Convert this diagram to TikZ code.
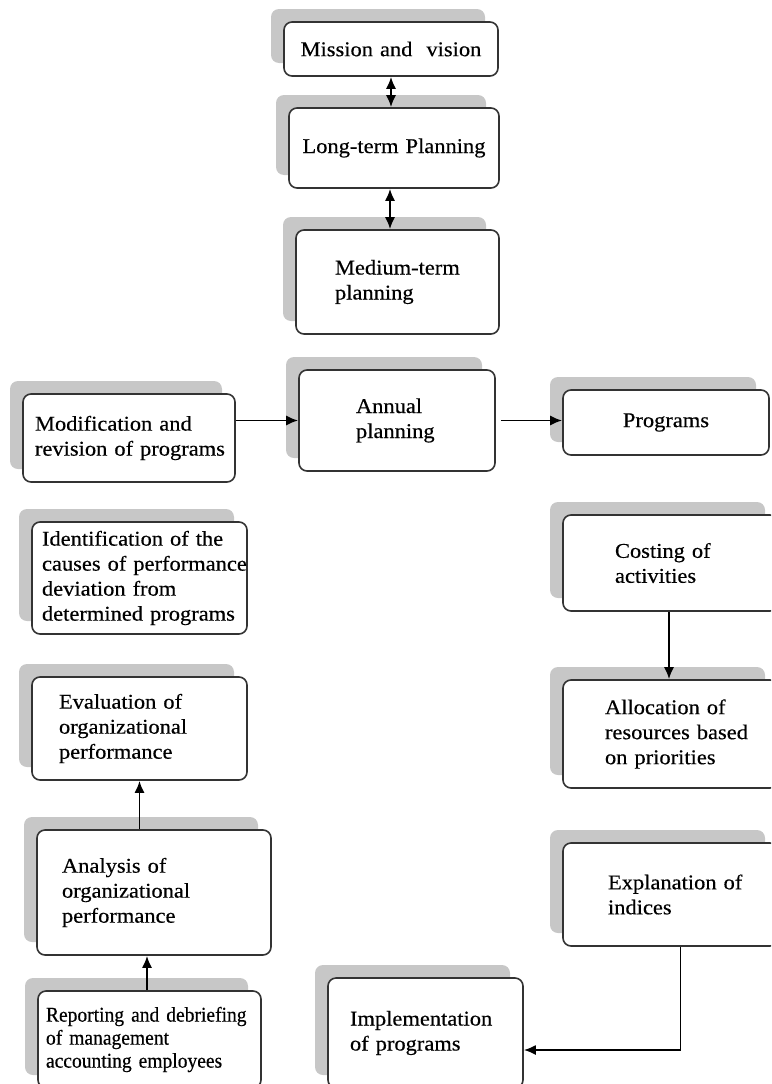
\documentclass[tikz,border=0pt]{standalone}
\usepackage{fontspec}
\setmainfont{Liberation Serif}[FakeStretch=1.07,FakeBold=0.4]
\newfontfamily\narrowserif{Liberation Serif}[FakeStretch=0.93,FakeBold=0.4]
\usepackage{tikz}
\usetikzlibrary{arrows.meta}
\usetikzlibrary{shadows}

\definecolor{shadowgray}{gray}{0.78}
\definecolor{edgegray}{gray}{0.2}

\tikzset{
  card/.style={draw=edgegray,line width=1.6pt,rounded corners=8pt,fill=white,inner sep=0pt,
    font=\fontsize{21}{25}\selectfont,
    drop shadow={shadow xshift=-13pt,shadow yshift=13pt,fill=shadowgray,opacity=1}},
  indent/.style={align=left,execute at begin node={\leftskip=#1}},
  link/.style={line width=1.8pt,draw=black,>={Latex[length=12pt,width=10pt]}}
}

\begin{document}
\begin{tikzpicture}[x=1pt,y=-1pt]
    \clip (0,0) rectangle (771,1084);
    % planning chain
    \node[card,text width=214pt,align=center,minimum height=54pt] (mission) at (391,49) {Mission and \ vision};
    \node[card,text width=210pt,align=center,minimum height=80pt] (longterm) at (394,148) {Long-term Planning};
    \node[card,text width=203pt,indent=39pt,minimum height=104pt] (medium) at (397.5,282) {Medium-term\\planning};
    \node[card,text width=212pt,indent=12pt,minimum height=88pt] (modify) at (129,438) {Modification and\\revision of programs};
    \node[card,text width=196pt,indent=57pt,minimum height=101pt] (annual) at (397,420.5) {Annual\\planning};
    \node[card,text width=206pt,align=center,minimum height=65pt] (programs) at (666,422.5) {Programs};
    % left column
    \node[card,text width=215pt,indent=10pt,minimum height=112pt] (identify) at (139.5,578) {Identification of the\\causes of performance\\deviation from\\determined programs};
    \node[card,text width=215pt,indent=27pt,minimum height=103pt] (evaluate) at (139.5,728.5) {Evaluation of\\organizational\\performance};
    \node[card,text width=234pt,indent=25pt,minimum height=125pt] (analyse) at (154,892.5) {Analysis of\\organizational\\performance};
    \node[card,text width=223pt,indent=8pt,minimum height=97pt,font=\narrowserif\fontsize{21}{23}\selectfont] (report) at (149.5,1039.5) {Reporting and debriefing\\of management\\accounting employees};
    % right column
    \node[card,text width=215pt,indent=52pt,minimum height=96pt] (costing) at (670.5,563) {Costing of\\activities};
    \node[card,text width=215pt,indent=42pt,minimum height=108pt] (allocate) at (670.5,734) {Allocation of\\resources based\\on priorities};
    \node[card,text width=215pt,indent=45pt,minimum height=103pt] (explain) at (670.5,894.5) {Explanation of\\indices};
    \node[card,text width=195pt,indent=22pt,minimum height=110pt] (implement) at (425.5,1033) {Implementation\\of programs};
    % connectors
    \draw[link,<->] (mission.south) -- (mission.south |- longterm.north);
    \draw[link,<->] ([xshift=-4pt]longterm.south) -- ([xshift=-4pt]longterm.south |- medium.north);
    \draw[link,->] (modify.east |- annual.west) -- (annual.west);
    \draw[link,->] ([xshift=5pt]annual.east) -- (programs.west |- annual.east);
    \draw[link,->] ([xshift=-1.5pt]costing.south) -- ([xshift=-1.5pt]allocate.north);
    \draw[link,->] (evaluate.south |- analyse.north) -- (evaluate.south);
    \draw[link,->] ([xshift=-2.5pt]report.north) -- ([xshift=-2.5pt]report.north |- analyse.south);
    \draw[link,->] ([xshift=10pt]explain.south) |- ([yshift=-17pt]implement.east);
\end{tikzpicture}
\end{document}
